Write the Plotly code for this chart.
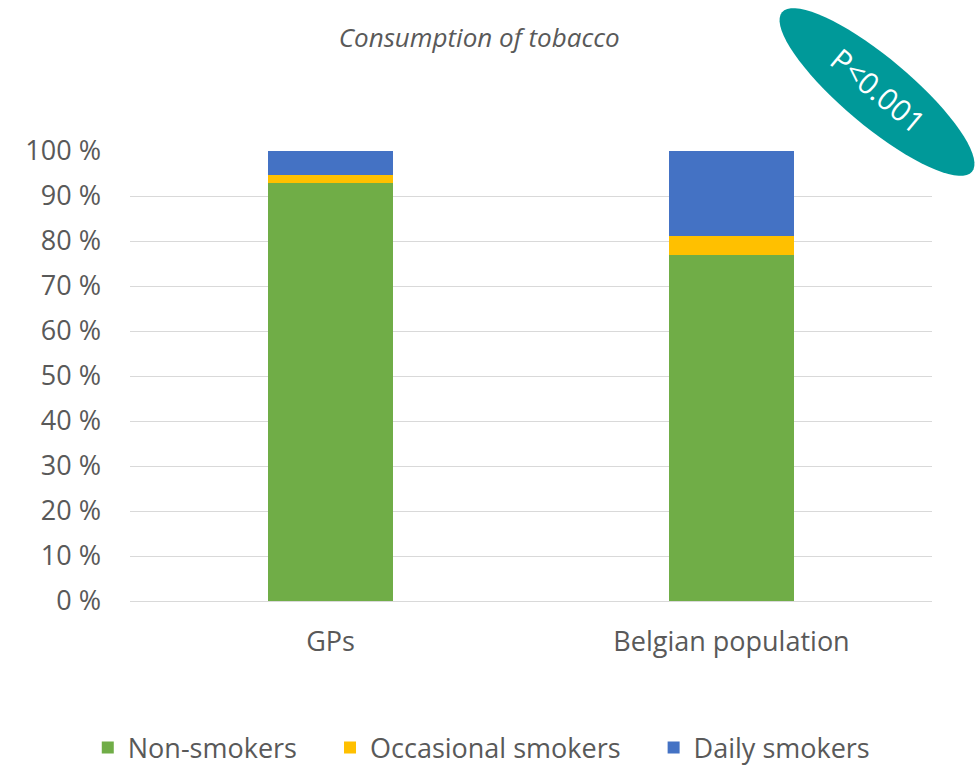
import math
import plotly.graph_objects as go

# Share of each smoking status (%)
groups = ["GPs", "Belgian population"]
non_smokers = [92.8, 77.0]
occasional_smokers = [1.9, 4.1]
daily_smokers = [5.3, 18.9]

series = [
    ("Non-smokers", non_smokers, "#70AD47"),
    ("Occasional smokers", occasional_smokers, "#FFC000"),
    ("Daily smokers", daily_smokers, "#4472C4"),
]

W, H = 978, 766
ML, MR, MT, MB = 130, 46, 151, 165
PW, PH = W - ML - MR, H - MT - MB
FONT = "Open Sans"
GREY = "#595959"
PAD = "\u00a0" * 4  # extra room between legend entries

fig = go.Figure()
for i, (name, vals, color) in enumerate(series):
    fig.add_trace(go.Bar(
        x=groups, y=vals,
        name=name + (PAD if i < len(series) - 1 else ""),
        marker=dict(color=color, line=dict(width=0)),
    ))


def to_paper(px, py):
    return (px - ML) / PW, (H - MB - py) / PH


# Rotated ellipse carrying the significance label
cx, cy, a, b, ang = 877, 92, 124, 34, math.radians(40)
pts = []
for i in range(73):
    t = 2 * math.pi * i / 72
    ex, ey = a * math.cos(t), b * math.sin(t)
    px = cx + ex * math.cos(ang) - ey * math.sin(ang)
    py = cy + ex * math.sin(ang) + ey * math.cos(ang)
    pts.append(to_paper(px, py))
path = "M " + " L ".join(f"{x:.5f},{y:.5f}" for x, y in pts) + " Z"
fig.add_shape(type="path", path=path, xref="paper", yref="paper",
              fillcolor="#009999", line=dict(width=0), layer="above",
              label=dict(text="P&lt;0.001", textangle=40,
                         textposition="middle center",
                         font=dict(family=FONT, size=30, color="white")))

fig.update_layout(
    width=W, height=H,
    margin=dict(l=ML, r=MR, t=MT, b=MB, autoexpand=False),
    barmode="stack", bargap=0.69,
    plot_bgcolor="white", paper_bgcolor="white",
    font=dict(family=FONT, color=GREY, size=27),
    title=dict(text="<i>Consumption of tobacco</i>", x=0.49, xanchor="center",
               y=1 - 38 / H, yanchor="middle",
               font=dict(family=FONT, size=26, color=GREY)),
    legend=dict(orientation="h", x=0.438, xanchor="center",
                y=(H - MB - 748) / PH, yanchor="middle",
                font=dict(size=27, color=GREY),
                itemwidth=30, traceorder="normal"),
    yaxis=dict(range=[0, 100], dtick=10, ticksuffix=" %",
               showgrid=True, gridcolor="#D9D9D9", gridwidth=1,
               zeroline=True, zerolinecolor="#D9D9D9", zerolinewidth=1,
               showline=False, ticklabelstandoff=28,
               tickfont=dict(size=27, color=GREY)),
    xaxis=dict(showgrid=False, showline=False, ticklabelstandoff=22,
               tickfont=dict(size=27, color=GREY)),
)

fig.write_html("out.html")
